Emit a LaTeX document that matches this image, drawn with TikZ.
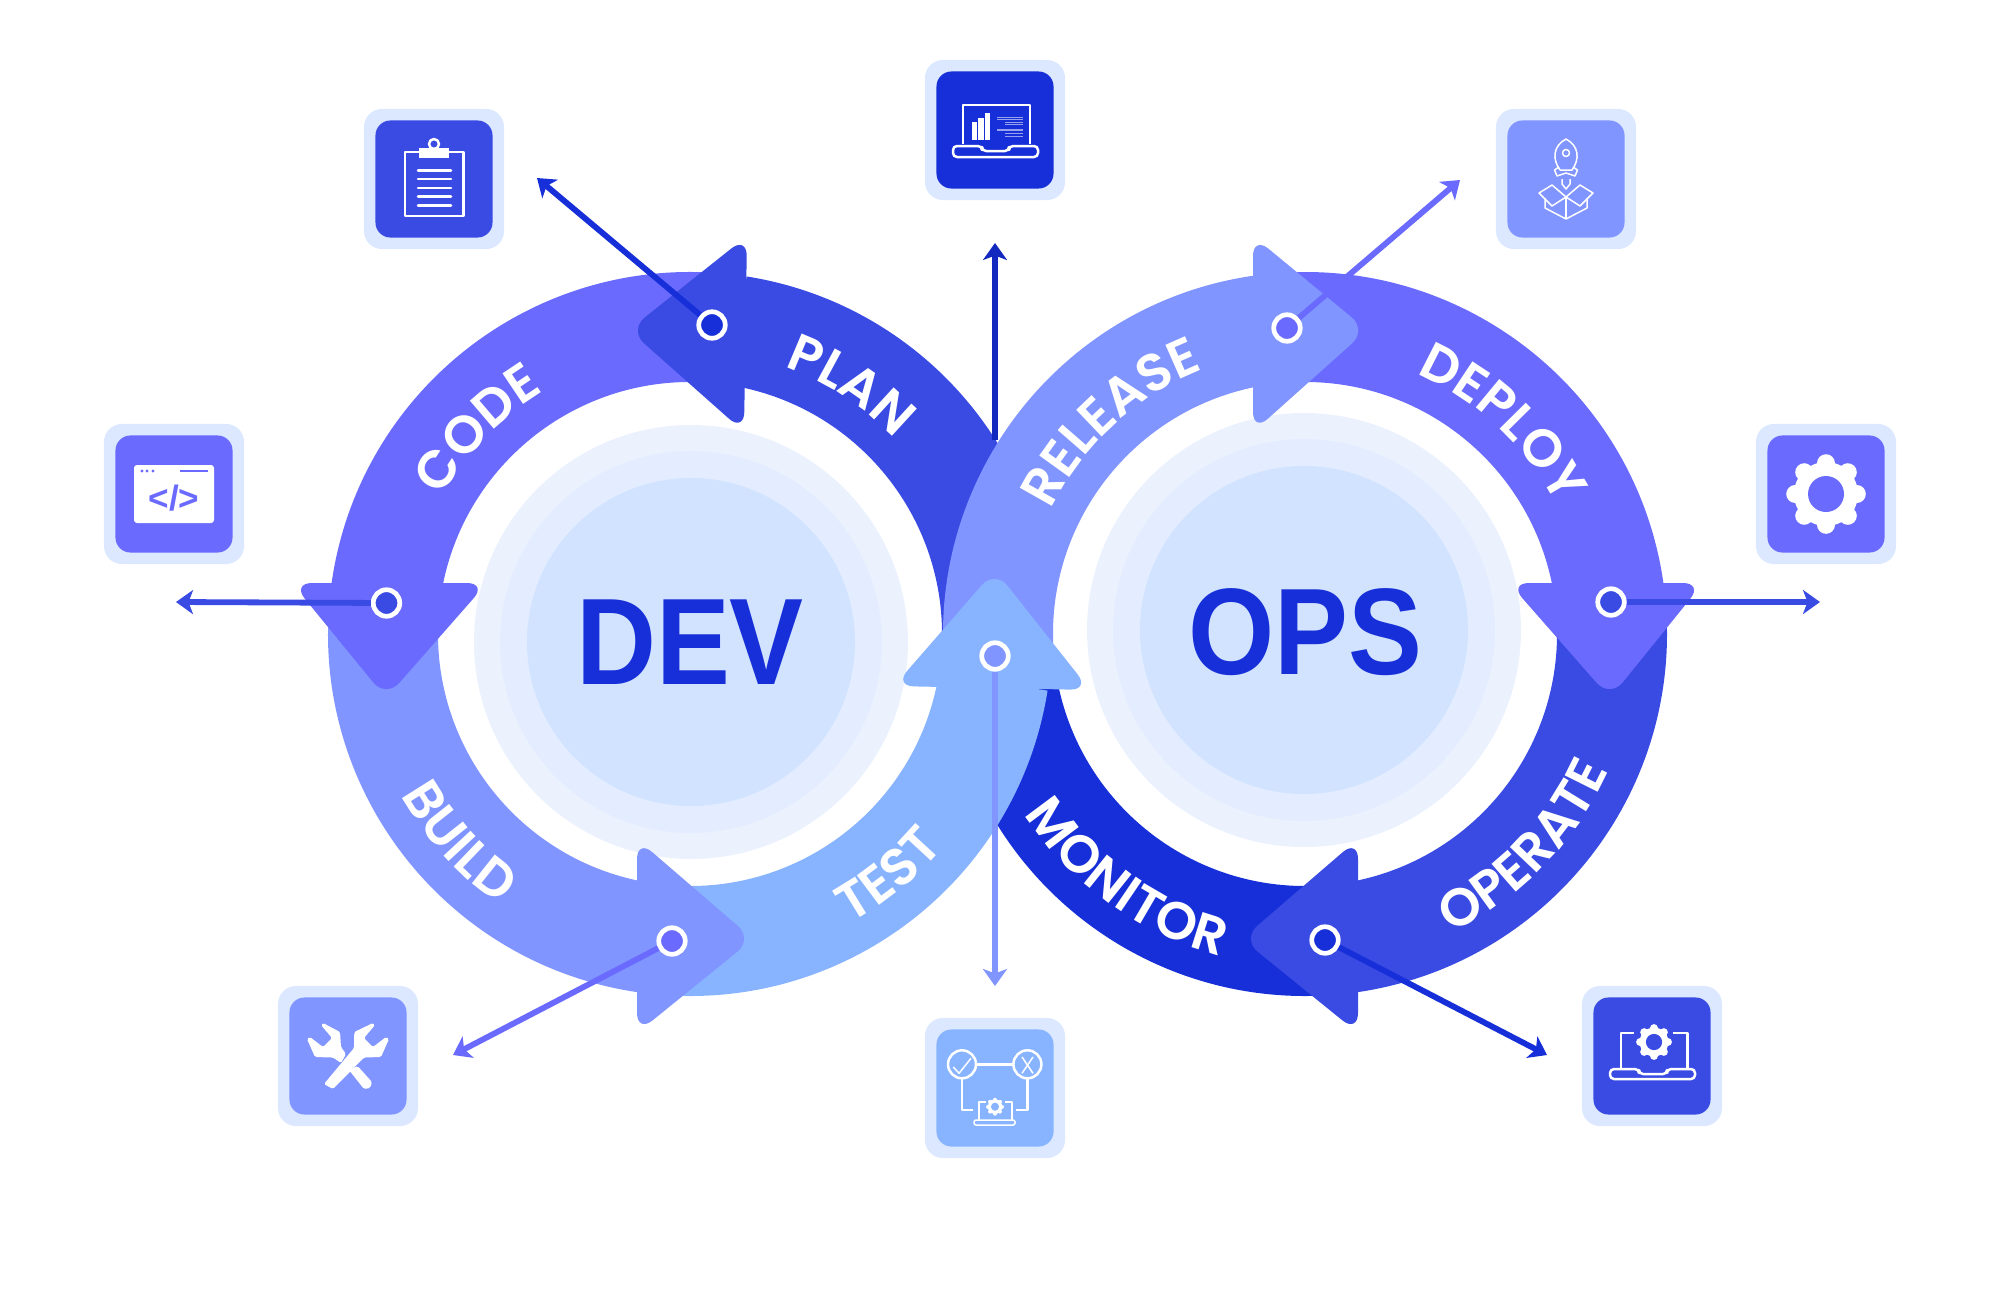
\documentclass[tikz,border=0pt]{standalone}
\usepackage{fontspec}
\setmainfont{Liberation Sans}
\newfontfamily\poppinsfont{Poppins}[BoldFont=* SemiBold,LetterSpace=3]
\usetikzlibrary{arrows.meta}
\usetikzlibrary{decorations.text}

\definecolor{plancol}{HTML}{3A4BE4}
\definecolor{codecol}{HTML}{6A6BFE}
\definecolor{buildcol}{HTML}{8095FF}
\definecolor{testcol}{HTML}{88B4FF}
\definecolor{monitorcol}{HTML}{172FD8}
\definecolor{stemcol}{HTML}{1328BE}
\definecolor{haloouter}{HTML}{EBF2FE}
\definecolor{halomid}{HTML}{E4EDFF}
\definecolor{haloinner}{HTML}{D1E3FF}
\definecolor{tilelight}{HTML}{DBE8FF}

\tikzset{
  tileback/.style={rectangle,rounded corners=1.8mm,minimum size=1.4cm,inner sep=0pt,fill=tilelight},
  tilefront/.style={rectangle,rounded corners=1.5mm,minimum size=1.17cm,inner sep=0pt},
  headfill/.style={rounded corners=2mm},
  dotnode/.style={circle,draw=white,line width=0.47mm,minimum size=2.65mm,inner sep=0pt},
  conn/.style={line width=0.58mm,-{Stealth[length=1.7mm,width=2.4mm,inset=0.45mm]}},
  iconline/.style={white,line width=0.25mm,line join=round},
  iconthin/.style={white,line width=0.15mm,line join=round},
  bigword/.style={font=\fontsize{35pt}{35pt}\selectfont\bfseries,text=monitorcol,xscale=0.9},
}
\newcommand{\ringfont}{\color{white}\poppinsfont\bfseries\fontsize{15pt}{15pt}\selectfont}
\newcommand{\ringpart}[4]{\fill[#4] (#1) ++(#2:362) arc (#2:#3:362) -- ++(#3:-110) arc (#3:#2:252) -- cycle;}
\newcommand{\gearicon}[3]{%
  \fill[white] (#1) circle ({0.8*#2});
  \foreach \ang in {0,45,...,315} \draw[white,line cap=round,line width=#2*0.045mm] (#1) ++(\ang:{0.5*#2}) -- ++(\ang:{0.27*#2});
  \fill[#3] (#1) circle ({0.45*#2});}

\begin{document}
\begin{tikzpicture}[x=0.01cm,y=-0.01cm]
\useasboundingbox (0,0) rectangle (2000,1306);

\fill[haloouter] (691,642) circle (217);
\fill[halomid] (691,642) circle (191);
\fill[haloinner] (691,642) circle (164);
\fill[haloouter] (1304,630) circle (217);
\fill[halomid] (1304,630) circle (191);
\fill[haloinner] (1304,630) circle (164);

\ringpart{690,634}{3}{-81}{plancol}
\ringpart{1305,634}{87}{170}{monitorcol}
\ringpart{1305,634}{-3.5}{82}{plancol}
\fill[plancol,headfill] (1358,839) -- (1242,939) -- (1358,1033) -- cycle;
\ringpart{1305,634}{-93}{-7}{codecol}
\fill[codecol,headfill] (1509,583) -- (1610,698) -- (1703,583) -- cycle;
\ringpart{1305,634}{176}{262}{buildcol}
\fill[buildcol,headfill] (1253,236) -- (1367,330) -- (1253,432) -- cycle;
\ringpart{690,634}{93}{9}{testcol}
\fill[testcol,headfill] (894,686) -- (995,570) -- (1090,690) -- cycle;
\ringpart{690,634}{184}{98}{buildcol}
\fill[buildcol,headfill] (637,839) -- (753,939) -- (637,1033) -- cycle;
\ringpart{690,634}{275}{187}{codecol}
\fill[codecol,headfill] (292,583) -- (386,698) -- (487,583) -- cycle;
\fill[plancol,headfill] (747,236) -- (629,330) -- (744,432) -- cycle;

\node[bigword] (devword) at (690,642) {DEV};
\node[bigword] (opsword) at (1305,632) {OPS};

\path[decorate,decoration={text along path,text align=center,text={|\ringfont|PLAN}}] (690,634) ++(-82:283) arc (-82:-32:283);
\path[decorate,decoration={text along path,text align=center,text={|\ringfont|CODE}}] (690,634) ++(199:283) arc (199:249:283);
\path[decorate,decoration={text along path,text align=center,text={|\ringfont|BUILD}}] (690,634) ++(168:331) arc (168:108:331);
\path[decorate,decoration={text along path,text align=center,text={|\ringfont|TEST}}] (690,634) ++(75:331) arc (75:26:331);
\path[decorate,decoration={text along path,text align=center,text={|\ringfont|RELEASE}}] (1305,634) ++(192:283) arc (192:263:283);
\path[decorate,decoration={text along path,text align=center,text={|\ringfont|DEPLOY}}] (1305,634) ++(-77:283) arc (-77:-17:283);
\path[decorate,decoration={text along path,text align=center,text={|\ringfont|OPERATE}}] (1305,634) ++(79:333) arc (79:9:333);
\path[decorate,decoration={text along path,text align=center,text={|\ringfont|MONITOR}}] (1305,634) ++(161:333) arc (161:91:333);

\node[dotnode,fill=monitorcol] (plandot) at (712,325) {};
\node[dotnode,fill=plancol] (codedot) at (386.5,603) {};
\node[dotnode,fill=codecol] (builddot) at (672,941) {};
\node[dotnode,fill=buildcol] (testdot) at (995,656) {};
\node[dotnode,fill=codecol] (releasedot) at (1287,328) {};
\node[dotnode,fill=plancol] (deploydot) at (1611,602) {};
\node[dotnode,fill=monitorcol] (operatedot) at (1325,940) {};

\coordinate (plantip) at (537,178);
\coordinate (codetip) at (176,602);
\coordinate (buildtip) at (453,1055);
\coordinate (testtip) at (995,986);
\coordinate (releasetip) at (1460,180);
\coordinate (deploytip) at (1820,602);
\coordinate (operatetip) at (1547,1055);
\coordinate (stemfoot) at (995,440);
\coordinate (stemtip) at (995,243);

\draw[conn,monitorcol] (plandot) -- (plantip);
\draw[conn,plancol] (codedot) -- (codetip);
\draw[conn,codecol] (builddot) -- (buildtip);
\draw[conn,buildcol] (testdot) -- (testtip);
\draw[conn,codecol] (releasedot) -- (releasetip);
\draw[conn,plancol] (deploydot) -- (deploytip);
\draw[conn,monitorcol] (operatedot) -- (operatetip);
\draw[conn,stemcol] (stemfoot) -- (stemtip);

\node[tileback] (plantile) at (434,179) {};
\node[tilefront,fill=plancol] (planface) at (plantile) {};
\node[tileback] (stemtile) at (995,130) {};
\node[tilefront,fill=monitorcol] (stemface) at (stemtile) {};
\node[tileback] (releasetile) at (1566,179) {};
\node[tilefront,fill=buildcol] (releaseface) at (releasetile) {};
\node[tileback] (deploytile) at (1826,494) {};
\node[tilefront,fill=codecol] (deployface) at (deploytile) {};
\node[tileback] (codetile) at (174,494) {};
\node[tilefront,fill=codecol] (codeface) at (codetile) {};
\node[tileback] (buildtile) at (348,1056) {};
\node[tilefront,fill=buildcol] (buildface) at (buildtile) {};
\node[tileback] (testtile) at (995,1088) {};
\node[tilefront,fill=testcol] (testface) at (testtile) {};
\node[tileback] (operatetile) at (1652,1056) {};
\node[tilefront,fill=plancol] (operateface) at (operatetile) {};

\begin{scope}[shift={(434,179)}]
\draw[iconline] (-29,-27) rectangle (29.5,37);
\fill[white] (-15,-31) rectangle (15,-21);
\draw[iconline] (0,-35) circle (5);
\draw[iconline,line cap=round] (-16,-8.7) -- (17,-8.7);
\draw[iconline,line cap=round] (-16,0) -- (17,0);
\draw[iconline,line cap=round] (-16,9) -- (17,9);
\draw[iconline,line cap=round] (-16,17.7) -- (17,17.7);
\draw[iconline,line cap=round] (-16,26.7) -- (17,26.7);
\end{scope}

\begin{scope}[shift={(995,130)}]
\draw[iconline] (-32,14) -- (-32,-25) -- (35,-25) -- (35,14);
\draw[iconline,rounded corners=0.4mm] (-42,16) -- (-13,16) -- (-13,21) -- (14,21) -- (14,16) -- (43,16) -- (43,27) -- (-42,27) -- cycle;
\fill[white] (-23.5,-8) rectangle (-18.5,10);
\fill[white] (-16.6,-12) rectangle (-11.3,10);
\fill[white] (-10,-17) rectangle (-5,10);
\draw[white!55!monitorcol,line width=0.1mm] (2,-13) -- (28,-13);
\draw[white!55!monitorcol,line width=0.1mm] (2,-10.5) -- (28,-10.5);
\draw[white!55!monitorcol,line width=0.1mm] (10,-8) -- (28,-8);
\draw[white!55!monitorcol,line width=0.1mm] (10,-5.5) -- (28,-5.5);
\draw[white!55!monitorcol,line width=0.2mm] (2,0) -- (28,0);
\draw[white!55!monitorcol,line width=0.1mm] (10,3.5) -- (28,3.5);
\draw[white!55!monitorcol,line width=0.1mm] (10,6) -- (28,6);
\end{scope}

\begin{scope}[shift={(1566,179)}]
\draw[iconthin] (-6,-9) .. controls (-14,-20) and (-13,-33) .. (0,-40) .. controls (13,-33) and (14,-20) .. (6,-9) -- cycle;
\draw[iconthin] (0,-26) circle (3.5);
\draw[iconthin] (-7,-12) -- (-11.5,-9) -- (-9,-3) -- (0,-6) -- (9,-3) -- (11.5,-9) -- (7,-12);
\draw[iconthin] (-4,0) -- (-4,5) -- (0,10) -- (4,5) -- (4,0);
\draw[iconthin] (-14,6) -- (0,18) -- (14,6) -- (27,14) -- (14,27) -- (0,18) -- (-14,27) -- (-27,14) -- cycle;
\draw[iconthin] (-21,19) -- (-21,29) -- (0,40) -- (21,29) -- (21,19);
\draw[iconthin] (0,18) -- (0,40);
\end{scope}

\gearicon{1826,494}{40}{codecol}

\begin{scope}[shift={(174,494)}]
\fill[white,rounded corners=0.3mm] (-40,-29) rectangle (40,29);
\fill[codecol] (-32,-23) circle (1.7);
\fill[codecol] (-27,-23) circle (1.7);
\fill[codecol] (-21,-23) circle (1.7);
\draw[codecol,line width=0.25mm] (6,-23) -- (34,-23);
\node[font=\fontsize{10pt}{10pt}\selectfont\bfseries,text=codecol,inner sep=0pt] (codetag) at (0,4) {</>};
\end{scope}

\begin{scope}[shift={(348,1056)}]
\fill[white,rounded corners=0.15mm] (6.3,-24) -- (25,-33) -- (27,-31) -- (16,-18) -- (25,-9) -- (38,-19) -- (41,-17) -- (33,1) -- (16,1.5) -- (-15,33) -- (-24,28) -- (6,-8) -- cycle;
\fill[white,rounded corners=0.15mm] (-8,-24) -- (-25,-33) -- (-27,-31) -- (-16,-18) -- (-25,-9) -- (-38,-19) -- (-41,-17) -- (-33,1) -- (-15,1.5) -- (-7,7) -- (-2,-2) -- (-7,-9) -- cycle;
\fill[white,rounded corners=0.15mm] (1,14) -- (9.6,10) -- (24,26) -- (22,32) -- (16,33) -- cycle;
\end{scope}

\begin{scope}[shift={(995,1088)}]
\draw[iconline] (-33,-23.7) circle (14);
\draw[iconline] (32.4,-23.7) circle (14);
\draw[iconline] (-19,-23.7) -- (18.4,-23.7);
\draw[iconline] (-33,-9.7) -- (-33,22) -- (-22.5,22);
\draw[iconline] (32.4,-9.7) -- (32.4,22) -- (21.4,22);
\draw[iconthin] (-41.7,-21) -- (-36,-14.7) -- (-24,-29.7);
\draw[iconthin] (27,-31) -- (38,-14.7);
\draw[iconthin] (38,-31) -- (27,-14.7);
\draw[iconthin] (-16,32) -- (-16,14) -- (-9,14);
\draw[iconthin] (17,32) -- (17,14) -- (10,14);
\draw[iconthin,rounded corners=0.2mm] (-21,32) rectangle (20,37);
\end{scope}
\gearicon{995,1106.7}{9}{testcol}

\begin{scope}[shift={(1652,1056)}]
\draw[iconline] (-18,-23) -- (-31,-23) -- (-31,12);
\draw[iconline] (21,-23) -- (35.7,-23) -- (35.7,12);
\draw[iconline,rounded corners=0.4mm] (-42,13) -- (-13,13) -- (-13,18) -- (15,18) -- (15,13) -- (43,13) -- (43,23) -- (-42,23) -- cycle;
\end{scope}
\gearicon{1654,1042}{18}{plancol}

\end{tikzpicture}
\end{document}
